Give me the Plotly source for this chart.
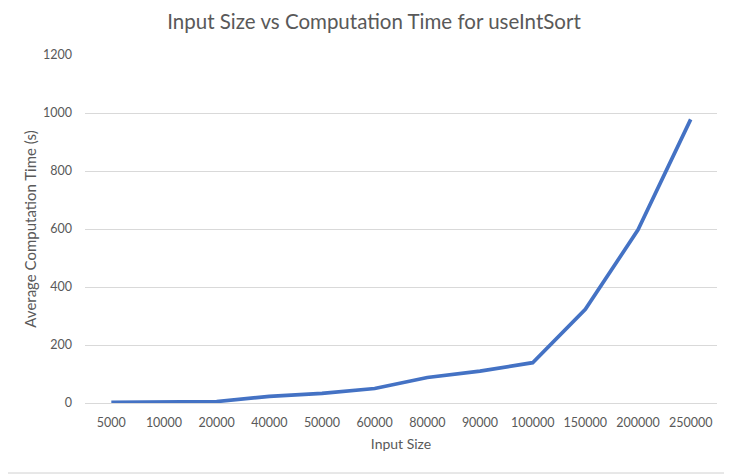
import plotly.graph_objects as go

input_sizes = ["5000", "10000", "20000", "40000", "50000", "60000",
               "80000", "90000", "100000", "150000", "200000", "250000"]
avg_time = [2, 3, 5, 23, 33, 50, 88, 110, 139, 323, 597, 978]
y_ticks = [0, 200, 400, 600, 800, 1000, 1200]

FONT = "Lato, 'Open Sans', sans-serif"
GREY = "#595959"

fig = go.Figure()
fig.add_trace(go.Scatter(
    x=input_sizes, y=avg_time, mode="lines",
    line=dict(color="#4472C4", width=3.7),
    showlegend=False, hoverinfo="x+y"))

fig.update_layout(
    width=732, height=475,
    margin=dict(l=77, r=23, t=47, b=80, autoexpand=False),
    paper_bgcolor="white", plot_bgcolor="white",
    title=dict(text="Input Size vs Computation Time for useIntSort",
               x=0.5, xanchor="center", y=0.97, yanchor="middle",
               font=dict(family=FONT, size=20.5, color=GREY)),
    font=dict(family=FONT, size=12.5, color=GREY),
    xaxis=dict(type="category", range=[-0.5, 11.5], showgrid=False, showline=False,
               ticks="", tickfont=dict(size=12.5, color=GREY), automargin=False,
               ticklabelstandoff=10,
               title=dict(text="Input Size", font=dict(size=14, color=GREY), standoff=10)),
    yaxis=dict(range=[0, 1200], tickvals=y_ticks, showgrid=True,
               gridcolor="#D9D9D9", gridwidth=1, zeroline=True,
               zerolinecolor="#D9D9D9", zerolinewidth=1, showline=False,
               ticks="", ticklabelstandoff=12, tickfont=dict(size=12.5, color=GREY),
               automargin=False,
               title=dict(text="Average Computation Time (s)",
                          font=dict(size=15, color=GREY), standoff=2)),
    shapes=[dict(type="line", xref="paper", yref="paper",
                 x0=-77/632, x1=1 + 23/632,
                 y0=-(473 - 403) / 348, y1=-(473 - 403) / 348,
                 line=dict(color="#D0D0D0", width=1))],
)

fig.write_html("out.html")
